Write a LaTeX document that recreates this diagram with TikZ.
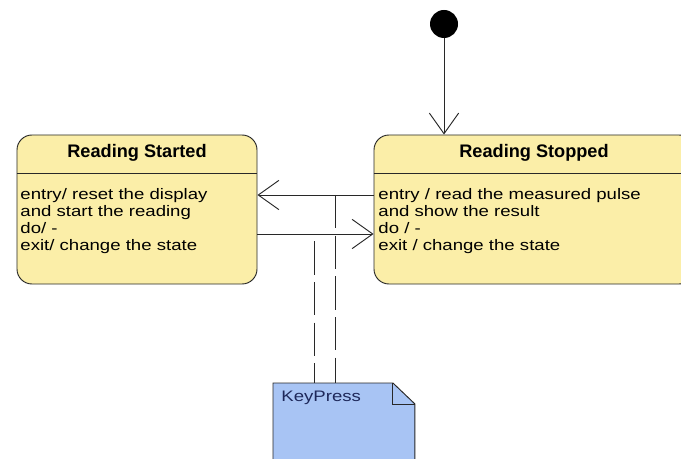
\documentclass[tikz,border=0pt]{standalone}
\usepackage{fontspec}
\setmainfont{Liberation Sans}
\newfontfamily\umlfont[FakeStretch=1.22]{Liberation Sans}
\usetikzlibrary{positioning,arrows.meta}

\definecolor{stateyellow}{RGB}{251,238,168}
\definecolor{noteblue}{RGB}{168,196,244}
\definecolor{notetext}{RGB}{30,40,90}
\definecolor{umlline}{RGB}{40,40,40}
\newcommand{\umltitle}{\fontsize{15.5}{17}\selectfont\bfseries}
\newcommand{\umlbody}{\umlfont\fontsize{13}{14.5}\selectfont}

\tikzset{
  state/.style={draw=umlline, rectangle, rounded corners=0.45cm, fill=stateyellow, minimum height=4.47cm, inner sep=0pt},
  statetitle/.style={font=\umltitle, inner sep=0pt},
  statebody/.style={align=left, font=\umlbody, inner sep=0pt, anchor=north west},
  initial/.style={circle, fill=black, minimum size=0.84cm, inner sep=0pt},
  trans/.style={draw=umlline, -{Straight Barb[length=0.62cm,width=0.88cm]}},
  anchorline/.style={draw=umlline, dash pattern=on 1cm off 0.22cm},
  notebox/.style={rectangle, minimum width=4.23cm, minimum height=3cm, inner sep=0pt, anchor=north west},
  note/.style={draw=umlline, fill=noteblue},
}

\begin{document}
\begin{tikzpicture}[x=0.03cm, y=-0.03cm, line width=0.8pt]
  \useasboundingbox (0,0) rectangle (681,459);
  \clip (0,0) rectangle (681,459);
  % States
  \node[state, minimum width=7.2cm] (started) at (137,209.5) {};
  \node[state, minimum width=9.6cm] (stopped) at (534,209.5) {};
  \draw[umlline] (started.west |- 0,173) -- (started.east |- 0,173);
  \draw[umlline] (stopped.west |- 0,173) -- (stopped.east |- 0,173);
  \node[statetitle] (startedname) at (137,153) {Reading Started};
  \node[statetitle] (stoppedname) at (534,153) {Reading Stopped};
  \node[statebody] (startedact) at (20,188) {entry/ reset the display\\and start the reading\\do/ -\\exit/ change the state};
  \node[statebody] (stoppedact) at (378,188) {entry / read the measured pulse\\and show the result\\do / -\\exit / change the state};
  % Initial state
  \node[initial] (init) at (444,24) {};
  \draw[trans] (init) -- (init |- stopped.north);
  % Transitions
  \draw[trans] (stopped.west |- 0,195) -- (started.east |- 0,195);
  \draw[trans] (started.east |- 0,234) -- (stopped.west |- 0,234);
  \coordinate (backmid) at (335,195);
  \coordinate (fwdmid) at (314,234);
  % Note
  \node[notebox] (keypress) at (273,383) {};
  \filldraw[note] (keypress.north west) -- ([xshift=-0.66cm]keypress.north east)
    -- ([yshift=-0.63cm]keypress.north east) -- (keypress.south east)
    -- (keypress.south west) -- cycle;
  \draw[umlline] ([xshift=-0.66cm]keypress.north east) |- ([yshift=-0.63cm]keypress.north east);
  \node[font=\umlbody, text=notetext, anchor=west, inner sep=0pt] (keypresstext) at (281,398) {KeyPress};
  \draw[anchorline] (backmid) -- (backmid |- keypress.north);
  \draw[anchorline, dash phase=1cm] (fwdmid) -- (fwdmid |- keypress.north);
\end{tikzpicture}
\end{document}
